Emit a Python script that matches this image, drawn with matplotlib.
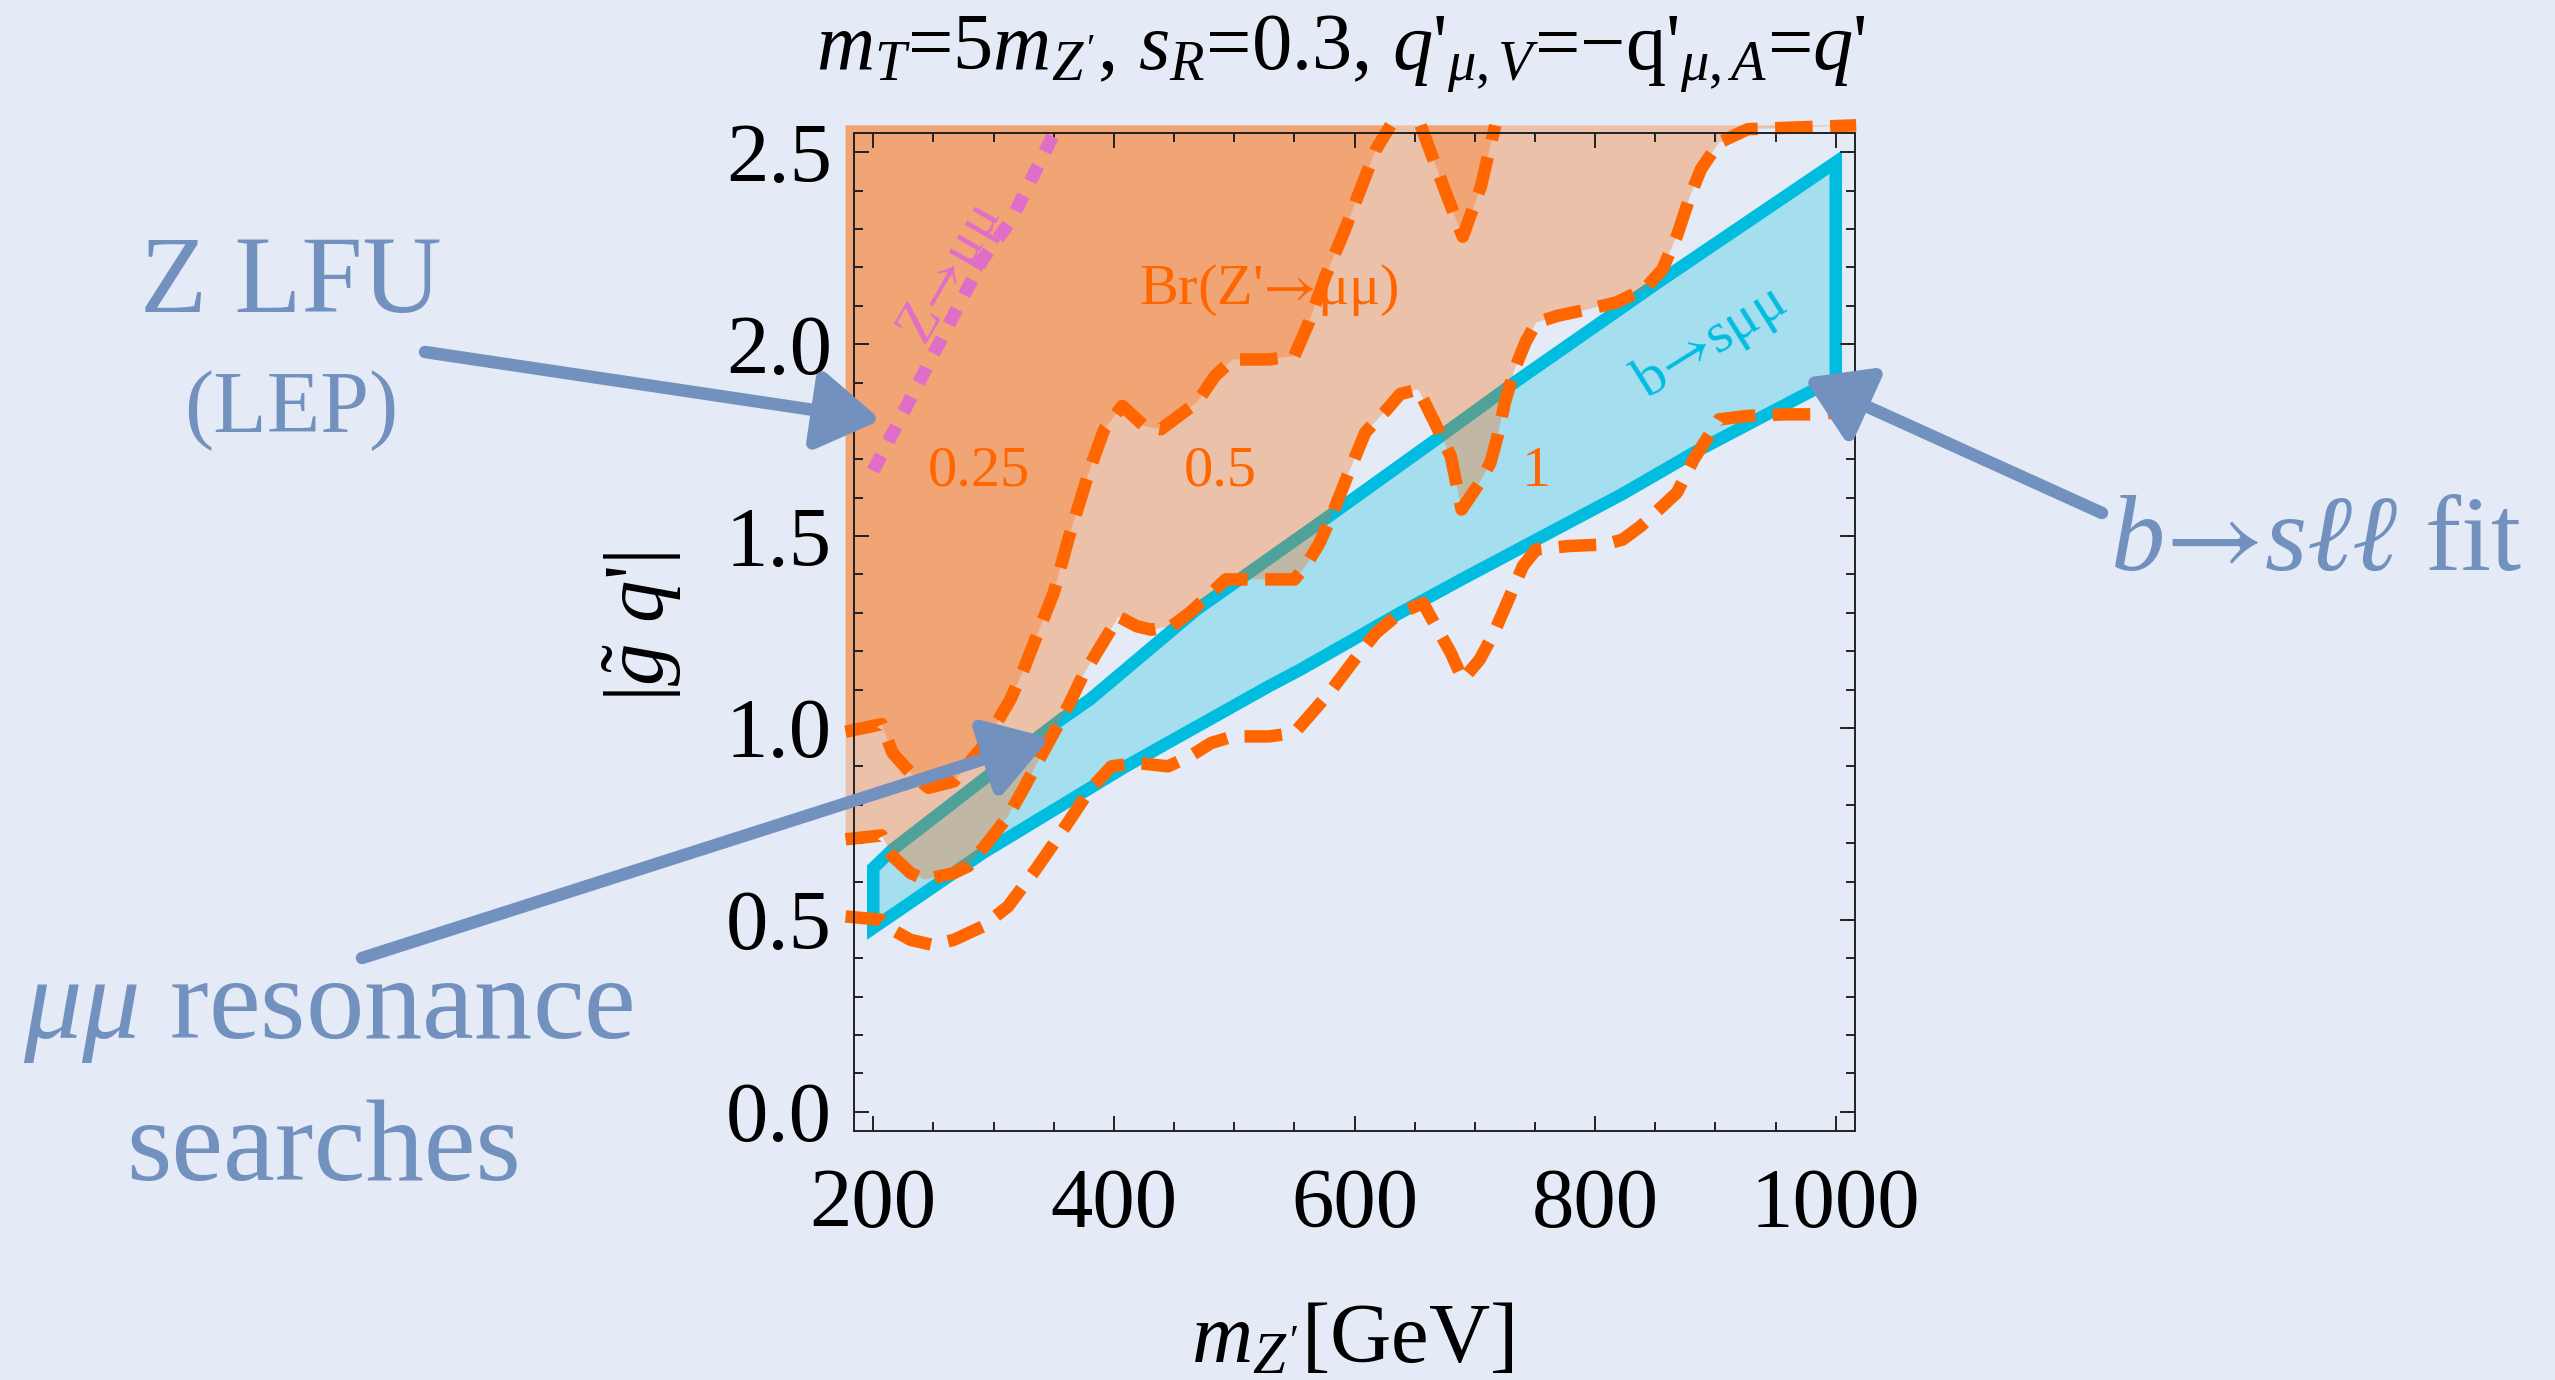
import numpy as np
import matplotlib.pyplot as plt
from matplotlib.patches import Polygon
from matplotlib.ticker import MultipleLocator, FormatStrFormatter

plt.rcParams['font.family'] = ['Liberation Serif', 'DejaVu Serif']
plt.rcParams['mathtext.fontset'] = 'custom'
plt.rcParams['mathtext.rm'] = 'Liberation Serif'
plt.rcParams['mathtext.it'] = 'Liberation Serif:italic'
plt.rcParams['mathtext.bf'] = 'Liberation Serif:bold'
plt.rcParams['mathtext.sf'] = 'STIXGeneral'  # only used for the arrows

bg = '#e4ebf6'
orange = '#ff6600'
cyan = '#00bde0'
magenta = '#e06ec8'
slate = '#7391be'

# Br(Z'->mumu) = 0.25 exclusion contour
br025_x = [177, 207, 216, 231, 246, 267, 291, 314, 326, 338, 350, 362, 380, 392, 407,
           425, 439, 469, 484, 499, 529, 550, 562, 576, 591, 606, 618, 630]
br025_y = [0.99, 1.01, 0.935, 0.883, 0.844, 0.861, 0.952, 1.074, 1.16, 1.257, 1.352, 1.49,
           1.674, 1.778, 1.839, 1.787, 1.778, 1.848, 1.917, 1.96, 1.96, 1.969, 2.056,
           2.178, 2.29, 2.412, 2.508, 2.57]
# piece of the 0.25 region hanging from the top
br025v_x = [655, 674, 690, 705, 717]
br025v_y = [2.57, 2.41, 2.28, 2.41, 2.57]

# Br = 0.5 contour
br05_x = [177, 207, 216, 231, 243, 267, 279, 297, 312, 326, 338, 350, 362, 374, 389, 404,
          419, 431, 448, 463, 478, 493, 514, 550, 559, 571, 582, 594, 609, 627, 638, 653,
          668, 680, 689, 704, 713, 719, 725, 733, 742, 751, 769, 793, 817, 841, 856, 868,
          879, 888, 903, 927, 1017]
br05_y = [0.71, 0.72, 0.666, 0.622, 0.605, 0.622, 0.64, 0.709, 0.77, 0.848, 0.918, 0.987,
          1.057, 1.135, 1.213, 1.29, 1.265, 1.256, 1.265, 1.30, 1.343, 1.387, 1.387, 1.387,
          1.42, 1.482, 1.56, 1.656, 1.77, 1.83, 1.87, 1.882, 1.787, 1.708, 1.569, 1.639,
          1.691, 1.761, 1.848, 1.934, 2.004, 2.056, 2.074, 2.09, 2.108, 2.143, 2.195, 2.282,
          2.386, 2.456, 2.525, 2.56, 2.57]

# Br = 1 contour
br1_x = [177, 207, 216, 231, 249, 267, 291, 312, 335, 356, 380, 398, 419, 445, 463, 481,
         499, 529, 550, 562, 579, 600, 618, 638, 657, 680, 690, 704, 716, 728, 740, 751,
         778, 808, 823, 838, 856, 868, 882, 903, 927, 957, 987, 1017]
br1_y = [0.509, 0.50, 0.474, 0.448, 0.435, 0.448, 0.483, 0.535, 0.631, 0.726, 0.839, 0.90,
         0.909, 0.90, 0.926, 0.961, 0.978, 0.978, 0.987, 1.03, 1.091, 1.178, 1.248, 1.30,
         1.325, 1.196, 1.126, 1.178, 1.248, 1.335, 1.422, 1.465, 1.474, 1.478, 1.491,
         1.526, 1.578, 1.613, 1.70, 1.804, 1.813, 1.817, 1.817, 1.83]

# b -> s mu mu fit band
bsmm_up_x = [200, 216, 356, 380, 469, 508, 579, 668, 733, 852, 1000]
bsmm_up_y = [0.635, 0.683, 1.022, 1.074, 1.309, 1.395, 1.552, 1.752, 1.90, 2.16, 2.474]
bsmm_lo_x = [200, 291, 410, 529, 555, 638, 689, 823, 882, 972, 1000]
bsmm_lo_y = [0.479, 0.674, 0.90, 1.109, 1.152, 1.30, 1.387, 1.61, 1.717, 1.865, 1.91]

# Z -> mu mu (LEP LFU) bound
zmm_x = [200, 255, 291, 315, 352]
zmm_y = [1.67, 2.004, 2.221, 2.325, 2.56]

ytop = 2.57
xleft = 177

W, H = 2555, 1380
fig = plt.figure(figsize=(W / 100, H / 100), dpi=100, facecolor=bg)
ax = fig.add_axes([854 / W, 1 - 1131 / H, (1855 - 854) / W, (1131 - 133) / H])
ax.set_facecolor(bg)

# blue band
band = np.column_stack([np.r_[bsmm_up_x, bsmm_lo_x[::-1]],
                        np.r_[bsmm_up_y, bsmm_lo_y[::-1]]])
ax.add_patch(Polygon(band, closed=True, facecolor=cyan, alpha=0.28, edgecolor='none', zorder=1))
ax.add_patch(Polygon(band, closed=True, facecolor='none', edgecolor=cyan, lw=9,
                     joinstyle='miter', zorder=1.1))

# orange exclusion fills (stacked translucent layers)
reg05 = np.column_stack([np.r_[br05_x, xleft], np.r_[br05_y, ytop]])
reg025 = np.column_stack([np.r_[br025_x, xleft], np.r_[br025_y, ytop]])
reg025v = np.column_stack([br025v_x, br025v_y])
for reg in (reg05, reg025, reg025v):
    ax.add_patch(Polygon(reg, closed=True, facecolor=orange, alpha=0.31, edgecolor='none',
                         zorder=2, clip_on=False))

dash = (0, (3.0, 1.4))
for xs, ys in ((br025_x, br025_y), (br025v_x, br025v_y), (br05_x, br05_y), (br1_x, br1_y)):
    ax.plot(xs, ys, color=orange, lw=9, linestyle=dash, dash_capstyle='butt',
            solid_joinstyle='miter', zorder=3, clip_on=False)

ax.plot(zmm_x, zmm_y, color=magenta, lw=9.5, linestyle=(0, (1.3, 1.2)),
        dash_capstyle='butt', zorder=3)

arr = r'$\mathsf{→}$'
lab = dict(fontsize=42, ha='center', va='center', zorder=4)
ax.text(288, 1.668, '0.25', color=orange, **lab)
ax.text(488, 1.668, '0.5', color=orange, **lab)
ax.text(751, 1.668, '1', color=orange, **lab)
ax.text(529, 2.14, "Br(Z'" + arr + "μμ)", color=orange, **lab)
ax.text(896, 2.005, 'b' + arr + 'sμμ', color=cyan, rotation=32, **lab)
ax.text(265, 2.18, 'Z' + arr + 'μμ', color=magenta, rotation=60, **lab)

ax.set_xlim(184, 1016)
ax.set_ylim(-0.05, 2.55)
ax.set_xticks([200, 400, 600, 800, 1000])
ax.xaxis.set_minor_locator(MultipleLocator(50))
ax.yaxis.set_major_locator(MultipleLocator(0.5))
ax.yaxis.set_minor_locator(MultipleLocator(0.1))
ax.yaxis.set_major_formatter(FormatStrFormatter('%.1f'))
ax.tick_params(which='both', direction='in', top=True, right=True, color='#222222',
               width=1.4)
ax.tick_params(which='major', length=10.8, labelsize=61, pad=27)
ax.tick_params(axis='y', which='major', pad=16)
ax.tick_params(which='minor', length=6.5)
ax.set_axisbelow(False)
for s in ax.spines.values():
    s.set_linewidth(1.4)
    s.set_color('#222222')
    s.set_zorder(5)

fig.text(1352 / W, 1 - 1362 / H, "$m_{Z'}$[GeV]", fontsize=61, ha='center', va='baseline')
fig.text(642 / W, 1 - 627 / H, r"$|\tilde{g}\ q$'|", fontsize=61, ha='center', va='center',
         rotation=90)
fig.text(1341 / W, 1 - 70 / H,
         r"$m_T$=5$m_{Z'}$, $s_R$=0.3, $q$'$_{\mu,V}$=−q'$_{\mu,A}$=$q$'",
         fontsize=58, ha='center', va='baseline')

# side annotations
fig.text(291 / W, 1 - 312 / H, 'Z LFU', fontsize=79, color=slate, ha='center', va='baseline')
fig.text(291 / W, 1 - 432 / H, '(LEP)', fontsize=63, color=slate, ha='center', va='baseline')
fig.text(328 / W, 1 - 1038 / H, r'$\mu\mu$ resonance', fontsize=84, color=slate,
         ha='center', va='baseline')
fig.text(324 / W, 1 - 1180 / H, 'searches', fontsize=84, color=slate, ha='center',
         va='baseline')
fig.text(2316 / W, 1 - 570 / H, r'$b\mathsf{→}s\ell\ell$ fit', fontsize=78, color=slate,
         ha='center', va='baseline')

arrows = [((425, 352), (881, 420)), ((362, 958), (1050, 738)), ((2102, 513), (1804, 378))]
for (x0, y0), (x1, y1) in arrows:
    ax.annotate('', xy=(x1 / W, 1 - y1 / H), xytext=(x0 / W, 1 - y0 / H),
                xycoords='figure fraction', textcoords='figure fraction',
                arrowprops=dict(arrowstyle='-|>,head_length=0.95,head_width=0.6',
                                mutation_scale=40, lw=9, color=slate, shrinkA=0, shrinkB=0),
                annotation_clip=False, zorder=6)

fig.savefig('out.png', dpi=100, facecolor=bg)
